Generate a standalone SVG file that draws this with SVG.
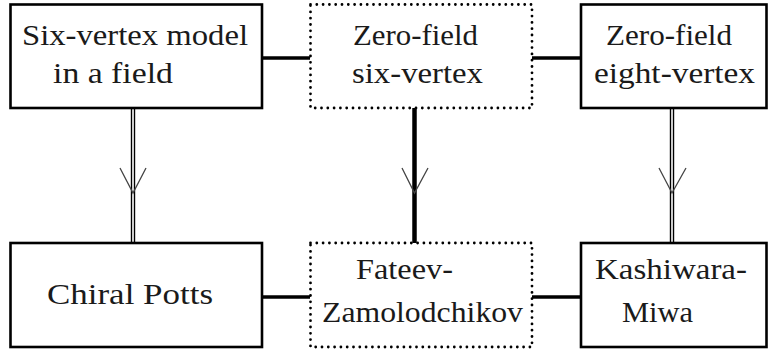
<svg xmlns="http://www.w3.org/2000/svg" width="773" height="354" viewBox="0 0 773 354">
<style>
.box{fill:#fff;stroke:#000;stroke-width:2.6}
.dot{fill:none;stroke:#000;stroke-width:2.8;stroke-linecap:round;stroke-dasharray:0 6.3}
text{font-family:'Liberation Serif','Times New Roman','DejaVu Serif',Times,serif;font-size:30px;fill:#1a1a1a}
.thick{stroke:#000;stroke-width:3.6;fill:none}
.dbl{stroke:#000;stroke-width:1.4;fill:none}
.head{stroke:#444;stroke-width:1.3;fill:none}
</style>
<rect width="773" height="354" fill="#fff"/>
<g id="connectors">
<line class="thick" x1="262" y1="58" x2="310" y2="58"/>
<line class="thick" x1="532" y1="58" x2="581" y2="58"/>
<line class="thick" x1="262" y1="297" x2="310" y2="297"/>
<line class="thick" x1="532" y1="297" x2="581" y2="297"/>
<line class="dbl" x1="131.5" y1="108" x2="131.5" y2="243"/>
<line class="dbl" x1="134.5" y1="108" x2="134.5" y2="243"/>
<polyline class="head" points="120,168 133,193 146,168"/>
<line class="dbl" x1="670.5" y1="108" x2="670.5" y2="243"/>
<line class="dbl" x1="673.5" y1="108" x2="673.5" y2="243"/>
<polyline class="head" points="659,168 672,193 686,168"/>
<line x1="414.5" y1="108" x2="414.5" y2="243" stroke="#000" stroke-width="4.5"/>
<polyline class="head" points="402,168 414.5,193 428,168"/>
</g>
<g id="six-vertex-field">
<rect class="box" x="10.5" y="4.5" width="251.5" height="103.5"/>
<text x="22" y="45" textLength="226" lengthAdjust="spacingAndGlyphs" style="font-family:'Liberation Serif',serif">Six-vertex model</text>
<text x="53" y="83" textLength="120" lengthAdjust="spacingAndGlyphs" style="font-family:'Liberation Serif',serif">in a field</text>
</g>
<g id="zero-field-six-vertex">
<rect class="dot" x="310.5" y="4.5" width="221.5" height="103.5"/>
<text x="353" y="45" textLength="125" lengthAdjust="spacingAndGlyphs" style="font-family:'Liberation Serif',serif">Zero-field</text>
<text x="352" y="83" textLength="131" lengthAdjust="spacingAndGlyphs" style="font-family:'Liberation Serif',serif">six-vertex</text>
</g>
<g id="zero-field-eight-vertex">
<rect class="box" x="581" y="4.5" width="185.5" height="103.5"/>
<text x="606" y="45" textLength="126" lengthAdjust="spacingAndGlyphs" style="font-family:'Liberation Serif',serif">Zero-field</text>
<text x="594" y="83" textLength="161" lengthAdjust="spacingAndGlyphs" style="font-family:'Liberation Serif',serif">eight-vertex</text>
</g>
<g id="chiral-potts">
<rect class="box" x="10.5" y="243" width="251.5" height="104"/>
<text x="47" y="304" textLength="166" lengthAdjust="spacingAndGlyphs" style="font-family:'Liberation Serif',serif">Chiral Potts</text>
</g>
<g id="fateev-zamolodchikov">
<rect class="dot" x="310.5" y="243" width="221.5" height="104"/>
<text x="356" y="279" textLength="97" lengthAdjust="spacingAndGlyphs" style="font-family:'Liberation Serif',serif">Fateev-</text>
<text x="322" y="322" textLength="201" lengthAdjust="spacingAndGlyphs" style="font-family:'Liberation Serif',serif">Zamolodchikov</text>
</g>
<g id="kashiwara-miwa">
<rect class="box" x="581" y="243" width="185.5" height="104"/>
<text x="595" y="279" textLength="152" lengthAdjust="spacingAndGlyphs" style="font-family:'Liberation Serif',serif">Kashiwara-</text>
<text x="622" y="322" textLength="71" lengthAdjust="spacingAndGlyphs" style="font-family:'Liberation Serif',serif">Miwa</text>
</g>
</svg>
